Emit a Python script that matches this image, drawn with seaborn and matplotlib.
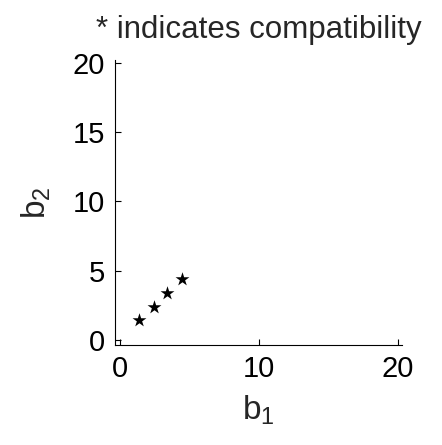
import numpy as np
import seaborn as sns
import matplotlib.pyplot as plt

# compatible (b1, b2) pairs
b1 = [1.4, 2.45, 3.4, 4.45]
b2 = [1.45, 2.4, 3.4, 4.4]
xticks = [0, 10, 20]
yticks = [0, 5, 10, 15, 20]

sns.set_style('ticks')
plt.rcParams['font.family'] = ['Liberation Sans', 'DejaVu Sans']
plt.rcParams['mathtext.fontset'] = 'custom'
plt.rcParams['mathtext.rm'] = 'Liberation Sans'
plt.rcParams['mathtext.it'] = 'Liberation Sans'
plt.rcParams['mathtext.default'] = 'regular'

fig = plt.figure(figsize=(4.42, 4.45), dpi=100)
ax = fig.add_axes([0.2602, 0.2247, 0.6486, 0.6405])

sns.scatterplot(x=b1, y=b2, marker='*', color='black', s=110, linewidth=0, ax=ax)

ax.set_xlim(-0.36, 20.3)
ax.set_ylim(-0.36, 20.2)
ax.set_xticks(xticks)
ax.set_yticks(yticks)
ax.tick_params(direction='in', length=4, width=0.8, labelsize=21, colors='black')
ax.tick_params(axis='x', pad=7)
ax.tick_params(axis='y', pad=7)
for s in ['left', 'bottom']:
    ax.spines[s].set_linewidth(0.8)
    ax.spines[s].set_color('black')
sns.despine(ax=ax)

ax.set_xlabel('$b_1$', fontsize=24, labelpad=8)
ax.set_ylabel('$b_2$', fontsize=24, labelpad=14)
ax.set_title('* indicates compatibility', fontsize=22.5, pad=16)

fig.savefig('out.png', dpi=100)
